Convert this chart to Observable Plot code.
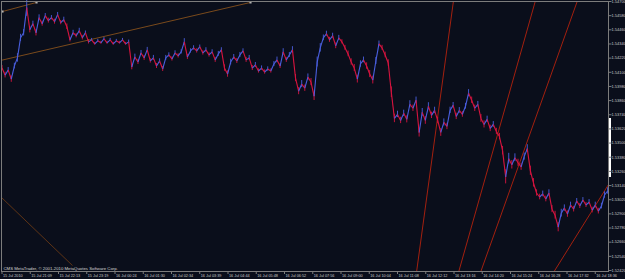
<!DOCTYPE html>
<html><head><meta charset="utf-8">
<script src="https://cdn.jsdelivr.net/npm/d3@7"></script>
<script src="https://cdn.jsdelivr.net/npm/@observablehq/plot@0.6"></script>
<style>html,body{margin:0;padding:0;background:#0a0e1b;overflow:hidden;width:625px;height:279px}</style>
</head><body><div id="chart"></div>
<script>
// one sample every 7 one-minute bars
const barStep = 7;
const closes = [1.54136,1.54076,1.54119,1.54042,1.54153,1.54222,1.54392,1.54435,1.54649,1.54461,
1.54512,1.54435,1.54563,1.54512,1.54580,1.54538,1.54563,1.54529,1.54589,1.54521,
1.54546,1.54486,1.54375,1.54435,1.54410,1.54452,1.54392,1.54435,1.54358,1.54375,
1.54341,1.54367,1.54350,1.54384,1.54350,1.54375,1.54341,1.54367,1.54350,1.54375,
1.54341,1.54358,1.54145,1.54230,1.54187,1.54264,1.54222,1.54290,1.54196,1.54222,
1.54153,1.54196,1.54128,1.54222,1.54247,1.54213,1.54264,1.54239,1.54273,1.54358,
1.54230,1.54281,1.54307,1.54281,1.54316,1.54264,1.54290,1.54247,1.54273,1.54205,
1.54256,1.54290,1.54136,1.54085,1.54187,1.54230,1.54196,1.54247,1.54281,1.54205,
1.54222,1.54136,1.54162,1.54111,1.54136,1.54102,1.54128,1.54111,1.54170,1.54205,
1.54153,1.54273,1.54205,1.54247,1.54290,1.54051,1.53940,1.54000,1.53965,1.54059,
1.54017,1.53897,1.54187,1.54307,1.54392,1.54427,1.54375,1.54410,1.54324,1.54392,
1.54358,1.54307,1.54256,1.54187,1.54136,1.54042,1.54170,1.54205,1.54153,1.54085,
1.54034,1.54196,1.54341,1.54307,1.54247,1.54179,1.53931,1.53709,1.53743,1.53692,
1.53752,1.53701,1.53829,1.53795,1.53863,1.53590,1.53760,1.53692,1.53812,1.53735,
1.53777,1.53692,1.53590,1.53675,1.53641,1.53777,1.53820,1.53726,1.53777,1.53743,
1.53812,1.53923,1.53863,1.53795,1.53829,1.53709,1.53658,1.53701,1.53624,1.53658,
1.53598,1.53555,1.53436,1.53214,1.53368,1.53316,1.53376,1.53333,1.53299,1.53385,
1.53453,1.53265,1.53163,1.53077,1.53043,1.53069,1.53026,1.53077,1.52940,1.52889,
1.52787,1.52906,1.52949,1.52898,1.52975,1.52940,1.53009,1.52966,1.53017,1.52975,
1.53000,1.52932,1.52975,1.52923,1.52966,1.53060,1.53094];
// high-low range of each 7-bar sample, in points (0.00001)
const ranges = [42,48,42,54,48,72,60,54,150,
54,42,54,48,42,36,42,36,42,36,36,42,48,
36,42,36,42,36,30,36,24,24,24,24,24,24,24,24,24,24,24,24,30,
48,48,42,42,42,42,36,42,42,36,42,42,36,36,36,36,36,54,42,36,36,36,30,36,36,36,36,42,42,36,
54,54,48,42,42,42,36,42,42,42,42,36,36,36,36,36,42,48,42,54,42,42,54,
60,60,60,54,54,60,72,84,72,48,42,42,42,48,42,36,42,48,54,60,66,54,48,54,60,66,60,48,42,48,54,
90,72,54,54,54,60,60,54,54,78,66,66,60,54,54,54,66,60,54,54,48,54,48,48,48,60,54,54,48,66,60,54,54,48,54,54,72,120,90,72,66,60,60,60,66,
78,72,54,48,48,48,54,60,66,78,66,54,54,48,48,42,42,42,42,42,48,48,48,48,54,54];

const xTickBars = [0,64,128,192,256,320,384,448,512,576,640,704,768,832,896,960,1024,1088,1152,1216,1280,1344];
const xTickLabels = ["15 Jul 2010","15 Jul 21:09","15 Jul 22:13","15 Jul 23:19","16 Jul 00:24","16 Jul 01:30",
"16 Jul 02:34","16 Jul 03:39","16 Jul 04:44","16 Jul 05:48","16 Jul 06:52","16 Jul 07:56","16 Jul 09:00",
"16 Jul 10:04","16 Jul 11:08","16 Jul 12:12","16 Jul 13:16","16 Jul 14:20","16 Jul 15:24","16 Jul 16:28",
"16 Jul 17:32","16 Jul 18:36"];
const yTicks = [1.5470,1.5458,1.5446,1.5434,1.5422,1.5410,1.5398,1.5386,1.5374,1.5362,1.5350,
1.5338,1.5326,1.5314,1.5302,1.5290,1.5278,1.5266,1.5254,1.5242];

// drawn objects (bar index, price)
const trendX1 = [-3.4, 1.1, -3.4, 1022.9, 1208.6, 1303.8, 1249.4];
const trendY1 = [1.54200, 1.54615, 1.53047, 1.54708, 1.54708, 1.54708, 1.52403];
const trendX2 = [563.0, 78.2, 159.7, 939.0, 1034.2, 1084.0, 1374.0];
const trendY2 = [1.54692, 1.54692, 1.52462, 1.52403, 1.52403, 1.52403, 1.53149];
const trendKind = ["brown","brown","brown2","red","red","red","red"];
const anchorX = [563.0, 78.2, 1.1];
const anchorY = [1.54692, 1.54692, 1.54615];
const markerPrice = [1.53708, 1.53208];
const copyright = "CMS MetaTrader, © 2001-2010 MetaQuotes Software Corp.";

const bg = "#0a0e1b";
const upColor = "#4a5fe0", downColor = "#d8143f";
const kindColor = {brown: "#7a4a1c", brown2: "#5e3416", red: "#a3200f"};

const pts = closes.map((c, i) => ({t: i * barStep, c, r: ranges[i] / 100000}));
const segs = [];
for (let i = 1; i < pts.length; i++) segs.push({t1: pts[i-1].t, c1: pts[i-1].c, t2: pts[i].t, c2: pts[i].c, up: pts[i].c > pts[i-1].c});
const bars = pts.map((p, i) => ({t: p.t, lo: p.c - p.r / 2, hi: p.c + p.r / 2, up: i > 0 && p.c > pts[i-1].c}));
const trends = trendX1.map((x, i) => ({x1: x, y1: trendY1[i], x2: trendX2[i], y2: trendY2[i], k: trendKind[i]}));
const anchors = anchorX.map((x, i) => ({x, y: anchorY[i]}));
const xLabelOf = new Map(xTickBars.map((b, i) => [b, xTickLabels[i]]));

const xMax = 1374.0;
const chart = Plot.plot({
  width: 625, height: 279,
  marginLeft: 1, marginTop: 1, marginRight: 17, marginBottom: 8,
  style: {background: bg, color: "#c8c8c8", fontFamily: "'Liberation Sans', Arial, sans-serif", overflow: "visible"},
  x: {domain: [-1.13, xMax], axis: null},
  y: {domain: [1.524115, 1.5470], axis: null},
  marks: [
    Plot.link(trends, {x1: "x1", y1: "y1", x2: "x2", y2: "y2", stroke: d => kindColor[d.k], strokeWidth: 1, clip: true}),
    Plot.ruleX(bars, {x: "t", y1: "lo", y2: "hi", stroke: d => d.up ? upColor : downColor, strokeWidth: 1, strokeOpacity: 0.9}),
    Plot.link(segs, {x1: "t1", y1: "c1", x2: "t2", y2: "c2", stroke: d => d.up ? upColor : downColor, strokeWidth: 1.1}),
    Plot.dot(anchors, {x: "x", y: "y", symbol: "square", r: 1.2, fill: "#b0b0b0", stroke: "none"}),
    Plot.frame({stroke: "#7c7c7c"}),
    Plot.ruleX([xMax], {y1: markerPrice[0], y2: markerPrice[1], stroke: "#ffffff", strokeWidth: 2, dx: 1.5}),
    Plot.axisX(xTickBars, {anchor: "bottom", tickSize: 3, tickFormat: null, stroke: "#7c7c7c"}),
    Plot.text(xTickBars, {x: d => d, text: d => xLabelOf.get(d), frameAnchor: "bottom", dy: 5, dx: 1,
      lineAnchor: "bottom", textAnchor: "start", fontSize: 3.8, fill: "#c8c8c8"}),
    Plot.axisY(yTicks, {anchor: "right", tickSize: 2.5, tickPadding: 0.5, tickFormat: d => d.toFixed(5),
      fontSize: 4, stroke: "#7c7c7c", fill: "#c8c8c8"}),
    Plot.text([copyright], {text: d => d, frameAnchor: "bottom-left", dx: 2, dy: -1.5, textAnchor: "start",
      lineAnchor: "bottom", fontSize: 4.3, fill: "#d4d4d4"})
  ]
});
document.getElementById("chart").appendChild(chart);
</script>
</body></html>
